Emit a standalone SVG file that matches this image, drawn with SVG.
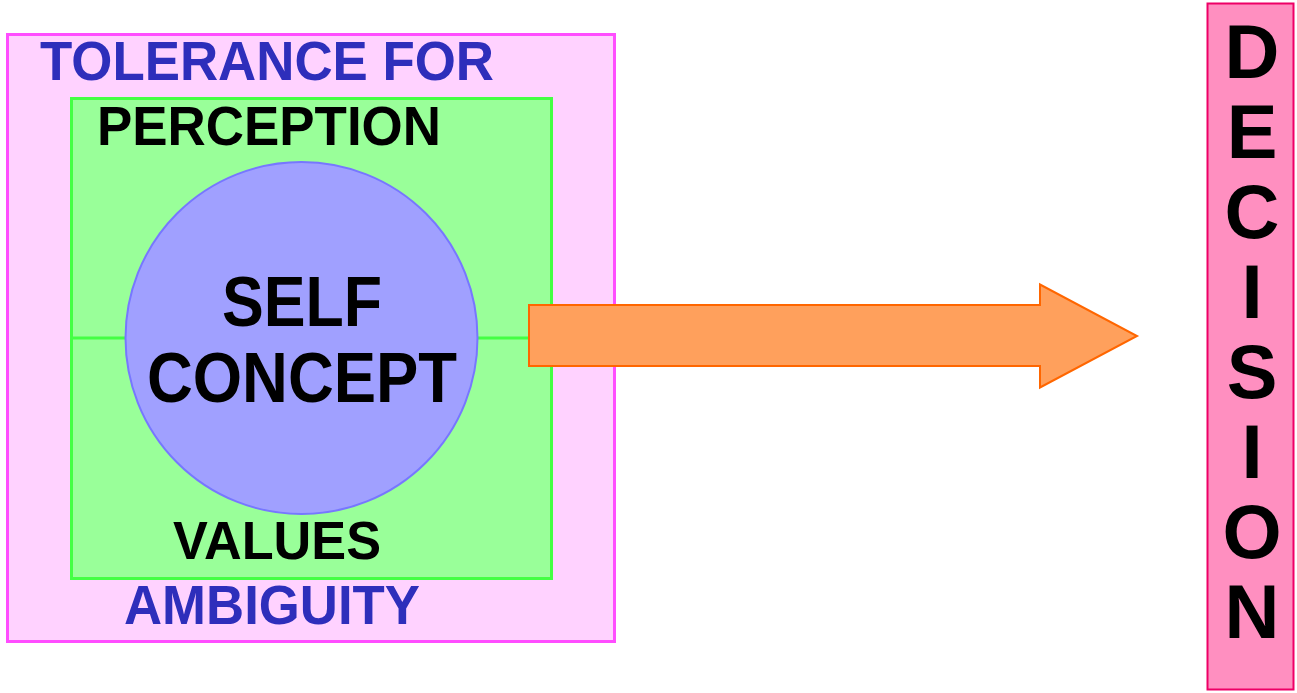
<svg xmlns="http://www.w3.org/2000/svg" width="1297" height="693" viewBox="0 0 1297 693">
  <style>
    .lbl { font-family: "Liberation Sans", Arial, sans-serif; font-weight: bold; text-anchor: middle; }
    .blue { fill: #2e2ebb; }
    .dark { fill: #000000; }
  </style>
  <rect width="1297" height="693" fill="#ffffff"/>

  <!-- outer frame: tolerance for ambiguity -->
  <g id="tolerance">
    <rect x="7.5" y="34.5" width="607" height="607" fill="#ffd2ff" stroke="#ff4dff" stroke-width="3"/>
    <text class="lbl blue" x="267" y="80" font-size="55" textLength="454" lengthAdjust="spacingAndGlyphs">TOLERANCE FOR</text>
    <text class="lbl blue" x="272" y="624" font-size="55" textLength="296" lengthAdjust="spacingAndGlyphs">AMBIGUITY</text>
  </g>

  <!-- inner frame: perception / values -->
  <g id="perception-values">
    <rect x="71.5" y="98.5" width="480" height="480" fill="#99ff99" stroke="#44ff44" stroke-width="3"/>
    <line x1="71.5" y1="338" x2="551.5" y2="338" stroke="#44ff44" stroke-width="3"/>
    <text class="lbl dark" x="269" y="145" font-size="55" textLength="344" lengthAdjust="spacingAndGlyphs">PERCEPTION</text>
    <text class="lbl dark" x="277" y="559" font-size="53" textLength="208" lengthAdjust="spacingAndGlyphs">VALUES</text>
  </g>

  <!-- core: self concept -->
  <g id="self-concept">
    <circle cx="301.5" cy="338" r="176" fill="#a0a0ff" stroke="#7777ff" stroke-width="2"/>
    <text class="lbl dark" x="302" y="326" font-size="70" textLength="160" lengthAdjust="spacingAndGlyphs">SELF</text>
    <text class="lbl dark" x="302" y="402" font-size="70" textLength="310" lengthAdjust="spacingAndGlyphs">CONCEPT</text>
  </g>

  <!-- block arrow towards the decision -->
  <g id="connectors">
    <path d="M529,305 H1040 V284.5 L1137,336 L1040,387.5 V366 H529 Z" fill="#ffa05c" stroke="#ff6600" stroke-width="2" stroke-linejoin="miter"/>
  </g>

  <!-- decision column -->
  <g id="decision">
    <rect x="1207.5" y="3.5" width="86" height="686" fill="#ff8fc0" stroke="#ee0066" stroke-width="2"/>
    <g class="lbl dark" font-size="76">
      <text x="1252" y="78">D</text>
      <text x="1252" y="158">E</text>
      <text x="1252" y="238">C</text>
      <text x="1252" y="318">I</text>
      <text x="1252" y="398">S</text>
      <text x="1252" y="478">I</text>
      <text x="1252" y="558">O</text>
      <text x="1252" y="638">N</text>
    </g>
  </g>
</svg>
